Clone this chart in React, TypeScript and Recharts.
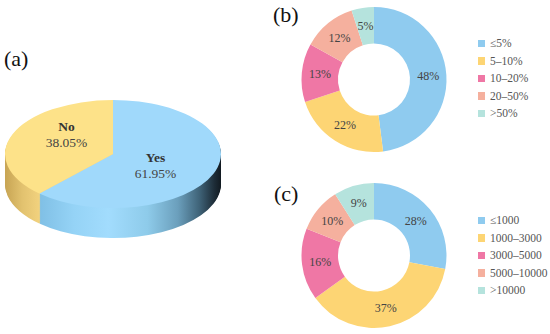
import { PieChart, Pie, Cell, Legend } from 'recharts'

// (a) yes / no share
const answerNames = ['Yes', 'No']
const answerValues = [61.95, 38.05]
const answerTop = ['#a0d9fb', '#fde289']
const answerSide = ['url(#sideBlue)', 'url(#sideYellow)']

// (b) share buckets
const shareNames = ['≤5%', '5–10%', '10–20%', '20–50%', '>50%']
const shareValues = [48, 22, 13, 12, 5]

// (c) count buckets
const countNames = ['≤1000', '1000–3000', '3000–5000', '5000–10000', '>10000']
const countValues = [28, 37, 16, 10, 9]

const bucketColors = ['#8fcbef', '#fdd574', '#ef77a5', '#f5b09e', '#b5e3dd']

const serif = "'Liberation Serif', 'Times New Roman', serif"
const RADIAN = Math.PI / 180
const noMargin = { top: 0, right: 0, bottom: 0, left: 0 }

const answerData = answerNames.map((name, i) => ({ name, value: answerValues[i] }))
const shareData = shareNames.map((name, i) => ({ name, value: shareValues[i] }))
const countData = countNames.map((name, i) => ({ name, value: countValues[i] }))

// side of the 3d pie: stacked copies, 1px apart on screen
const depth = 30
const layers = Array.from({ length: depth }, (_, i) => depth - i)

// label spots for (a), picked by eye
const answerLabelPos = [
  { left: 155.5, top: 150 },
  { left: 66.5, top: 118.5 },
]

const pctLabel = (props: any) => {
  const { cx, cy, midAngle, innerRadius, outerRadius, value } = props
  const r = (innerRadius + outerRadius) / 2
  const x = cx + r * Math.cos(-midAngle * RADIAN)
  const y = cy + r * Math.sin(-midAngle * RADIAN)
  return (
    <text
      x={x}
      y={y}
      textAnchor="middle"
      dominantBaseline="central"
      fill="#444"
      fontSize={12}
      fontFamily={serif}
    >
      {`${value}%`}
    </text>
  )
}

function BucketLegend({ names }: { names: string[] }) {
  return (
    <div style={{ fontFamily: serif, fontSize: 11.5, color: '#555' }}>
      {names.map((n, i) => (
        <div key={n} style={{ display: 'flex', alignItems: 'center', height: 17.5 }}>
          <span
            style={{
              display: 'inline-block',
              width: 7.5,
              height: 7.5,
              background: bucketColors[i],
              marginRight: 5,
            }}
          />
          <span>{n}</span>
        </div>
      ))}
    </div>
  )
}

function Donut({ data, names, top, legendTop }: any) {
  return (
    <div style={{ position: 'absolute', left: 290, top }}>
      <PieChart width={260} height={160} margin={noMargin}>
        <Pie
          data={data}
          dataKey="value"
          cx={84}
          cy={79.5}
          innerRadius={36}
          outerRadius={72.5}
          startAngle={90}
          endAngle={-270}
          stroke="none"
          label={pctLabel}
          labelLine={false}
          isAnimationActive={false}
        >
          {data.map((d: any, i: number) => (
            <Cell key={d.name} fill={bucketColors[i]} />
          ))}
        </Pie>
        <Legend
          content={() => <BucketLegend names={names} />}
          wrapperStyle={{ left: 187.5, top: legendTop, width: 80 }}
        />
      </PieChart>
    </div>
  )
}

const titleStyle = {
  position: 'absolute' as const,
  fontFamily: serif,
  fontSize: 22,
  lineHeight: '22px',
  color: '#111',
}

export default function App() {
  return (
    <div
      style={{
        position: 'absolute',
        left: 0,
        top: 0,
        width: 550,
        height: 334,
        background: '#fff',
        overflow: 'hidden',
      }}
    >
      <div style={{ ...titleStyle, left: 4, top: 47.6 }}>(a)</div>
      <div style={{ ...titleStyle, left: 273, top: 3.6 }}>(b)</div>
      <div style={{ ...titleStyle, left: 274, top: 182.6 }}>(c)</div>

      <div
        style={{
          position: 'absolute',
          left: 0,
          top: 80,
          transform: 'scaleY(0.5)',
          transformOrigin: '0 0',
        }}
      >
        <PieChart width={230} height={340} margin={noMargin}>
          <defs>
            <linearGradient id="sideBlue" gradientUnits="userSpaceOnUse" x1={5} y1={0} x2={221} y2={0}>
              <stop offset="0.14" stopColor="#7dbde3" />
              <stop offset="0.32" stopColor="#95d3f6" />
              <stop offset="0.48" stopColor="#a2dcfd" />
              <stop offset="0.66" stopColor="#8ecbea" />
              <stop offset="0.8" stopColor="#6b9fbc" />
              <stop offset="0.9" stopColor="#3f6378" />
              <stop offset="0.97" stopColor="#1d2c37" />
              <stop offset="1" stopColor="#121a21" />
            </linearGradient>
            <linearGradient id="sideYellow" gradientUnits="userSpaceOnUse" x1={5} y1={0} x2={221} y2={0}>
              <stop offset="0" stopColor="#c7a453" />
              <stop offset="0.08" stopColor="#e2c26f" />
              <stop offset="0.16" stopColor="#f2d27e" />
            </linearGradient>
          </defs>
          {layers.map((k) => (
            <Pie
              key={k}
              data={answerData}
              dataKey="value"
              cx={113}
              cy={148 + k * 2}
              outerRadius={108}
              startAngle={90}
              endAngle={-270}
              stroke="none"
              isAnimationActive={false}
            >
              {answerData.map((d, i) => (
                <Cell key={d.name} fill={answerSide[i]} />
              ))}
            </Pie>
          ))}
          <Pie
            data={answerData}
            dataKey="value"
            cx={113}
            cy={148}
            outerRadius={108}
            startAngle={90}
            endAngle={-270}
            stroke="none"
            isAnimationActive={false}
          >
            {answerData.map((d, i) => (
              <Cell key={d.name} fill={answerTop[i]} />
            ))}
          </Pie>
        </PieChart>
      </div>

      {answerData.map((d, i) => (
        <div
          key={d.name}
          style={{
            position: 'absolute',
            left: answerLabelPos[i].left,
            top: answerLabelPos[i].top,
            transform: 'translateX(-50%)',
            fontFamily: serif,
            fontSize: 13.5,
            lineHeight: '16px',
            textAlign: 'center',
            color: '#333',
            whiteSpace: 'nowrap',
          }}
        >
          <div style={{ fontWeight: 'bold' }}>{d.name}</div>
          <div style={{ color: '#444' }}>{`${d.value.toFixed(2)}%`}</div>
        </div>
      ))}

      <Donut data={shareData} names={shareNames} top={0} legendTop={34.5} />
      <Donut data={countData} names={countNames} top={176} legendTop={35.5} />
    </div>
  )
}
